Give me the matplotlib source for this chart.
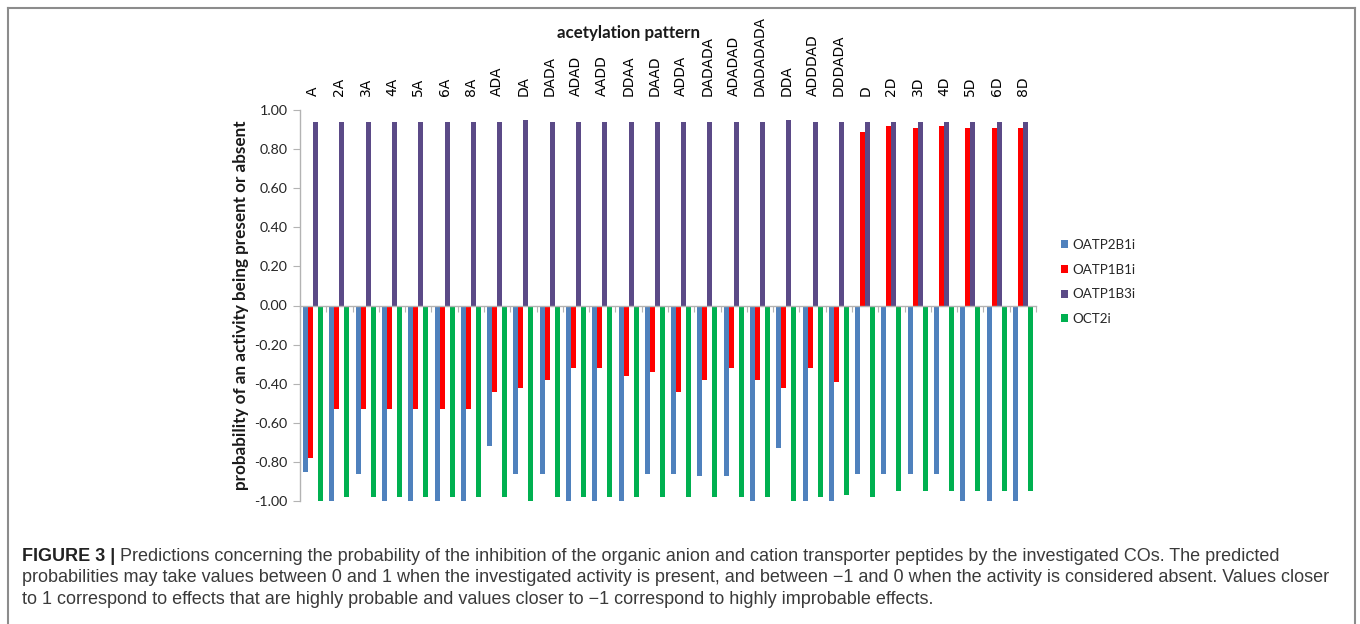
import matplotlib
matplotlib.use('Agg')
import matplotlib.pyplot as plt
import numpy as np
from matplotlib.lines import Line2D

categories = ['A', '2A', '3A', '4A', '5A', '6A', '8A', 'ADA', 'DA', 'DADA', 'ADAD', 'AADD',
              'DDAA', 'DAAD', 'ADDA', 'DADADA', 'ADADAD', 'DADADADA', 'DDA', 'ADDDAD',
              'DDDADA', 'D', '2D', '3D', '4D', '5D', '6D', '8D']
oatp2b1i = [-0.85, -1.00, -0.86, -1.00, -1.00, -1.00, -1.00, -0.72, -0.86, -0.86, -1.00, -1.00,
            -1.00, -0.86, -0.86, -0.87, -0.87, -1.00, -0.73, -1.00, -1.00, -0.86, -0.86, -0.86,
            -0.86, -1.00, -1.00, -1.00]
oatp1b1i = [-0.78, -0.53, -0.53, -0.53, -0.53, -0.53, -0.53, -0.44, -0.42, -0.38, -0.32, -0.32,
            -0.36, -0.34, -0.44, -0.38, -0.32, -0.38, -0.42, -0.32, -0.39, 0.89, 0.92, 0.91,
            0.92, 0.91, 0.91, 0.91]
oatp1b3i = [0.94, 0.94, 0.94, 0.94, 0.94, 0.94, 0.94, 0.94, 0.95, 0.94, 0.94, 0.94,
            0.94, 0.94, 0.94, 0.94, 0.94, 0.94, 0.95, 0.94, 0.94, 0.94, 0.94, 0.94,
            0.94, 0.94, 0.94, 0.94]
oct2i = [-1.00, -0.98, -0.98, -0.98, -0.98, -0.98, -0.98, -0.98, -1.00, -0.98, -0.98, -0.98,
         -0.98, -0.98, -0.98, -0.98, -0.98, -0.98, -1.00, -0.98, -0.97, -0.98, -0.95, -0.95,
         -0.95, -0.95, -0.95, -0.95]
series_names = ['OATP2B1i', 'OATP1B1i', 'OATP1B3i', 'OCT2i']
yticks = [1.0, 0.8, 0.6, 0.4, 0.2, 0.0, -0.2, -0.4, -0.6, -0.8, -1.0]

title_text = 'acetylation pattern'
ylabel_text = 'probability of an activity being present or absent'
cap_bold = 'FIGURE 3 |'
cap_line1 = (' Predictions concerning the probability of the inhibition of the organic anion and '
             'cation transporter peptides by the investigated COs. The predicted')
cap_line2 = ('probabilities may take values between 0 and 1 when the investigated activity is present, '
             'and between \u22121 and 0 when the activity is considered absent. Values closer')
cap_line3 = ('to 1 correspond to effects that are highly probable and values closer to \u22121 '
             'correspond to highly improbable effects.')

colors = ['#4f81bd', '#ff0000', '#5b4a87', '#00b050']
chart_font = ['Lato', 'DejaVu Sans']
cap_font = ['Liberation Sans', 'DejaVu Sans']
axis_gray = '#b3b3b3'

W, H = 1360, 624
fig = plt.figure(figsize=(W / 100, H / 100), dpi=100)
fig.patch.set_facecolor('white')


def fx(px):
    return px / W


def fy(py):
    return 1 - py / H


ax = fig.add_axes([fx(300), fy(501), fx(1036) - fx(300), fy(110) - fy(501)])
x = np.arange(len(categories))
w = 0.19
for i, (vals, name, col) in enumerate(zip([oatp2b1i, oatp1b1i, oatp1b3i, oct2i], series_names, colors)):
    ax.bar(x + (i - 1.5) * w, vals, width=w, color=col, label=name, linewidth=0)

ax.set_xlim(-0.5, len(categories) - 0.5)
ax.set_ylim(-1, 1)
ax.set_yticks(yticks)
ax.set_yticklabels([f'{v:.2f}' for v in yticks], fontfamily=chart_font, fontsize=10.3, color='#262626')

ax.set_xticks(x)
ax.set_xticklabels(categories, fontfamily=chart_font, fontsize=7.9, color='#262626')
ax.set_xticks(np.arange(-0.5, len(categories), 1.0), minor=True)
ax.tick_params(axis='x', which='major', bottom=False, top=False, labelbottom=False,
               labeltop=True, labelrotation=90, pad=6.5)
ax.tick_params(axis='x', which='minor', bottom=True, top=False, length=4, width=0.8,
               color=axis_gray, direction='out')
ax.tick_params(axis='y', which='major', left=True, length=5, width=0.8, color=axis_gray,
               direction='out', pad=4)

for s in ['top', 'right']:
    ax.spines[s].set_visible(False)
ax.spines['bottom'].set_position(('data', 0))
ax.spines['bottom'].set_color(axis_gray)
ax.spines['left'].set_color(axis_gray)
ax.spines['bottom'].set_linewidth(1.0)
ax.spines['left'].set_linewidth(1.0)
ax.set_facecolor('none')

fig.text(fx(629), fy(33), title_text, ha='center', va='center', fontsize=12.2,
         fontweight='bold', family=chart_font, color='#1a1a1a')
fig.text(fx(241), fy(305), ylabel_text, ha='center', va='center', rotation=90,
         fontsize=12.3, fontweight='bold', family=chart_font, color='#1a1a1a')

handles, labels = ax.get_legend_handles_labels()
leg = fig.legend(handles, labels, loc='center left', bbox_to_anchor=(fx(1061), fy(282)),
                 frameon=False, borderpad=0, borderaxespad=0, handlelength=0.55,
                 handleheight=0.55, handletextpad=0.3, labelspacing=0.95,
                 prop={'family': chart_font, 'size': 9.6})
for t in leg.get_texts():
    t.set_color('#262626')

# figure frame
frame_col = '#8c8c8c'
for xs, ys in [([7.5, 1355], [7.5, 7.5]), ([7.5, 7.5], [7.5, 624]), ([1355, 1355], [7.5, 624])]:
    fig.add_artist(Line2D([fx(v) for v in xs], [fy(v) for v in ys], transform=fig.transFigure,
                          color=frame_col, lw=1.5))

# caption
renderer = fig.canvas.get_renderer()
base = 13
t2 = fig.text(fx(22), fy(582.5), cap_line2, fontsize=base, family=cap_font, va='baseline',
              color='#3a3a3a')
wpx = t2.get_window_extent(renderer).width
fs = base * 1308 / wpx
t2.set_fontsize(fs)
tb = fig.text(fx(22), fy(561), cap_bold, fontsize=fs, family=cap_font, fontweight='bold',
              va='baseline', color='#222222')
bw = tb.get_window_extent(renderer).width
fig.text(fx(22 + bw), fy(561), cap_line1, fontsize=fs, family=cap_font, va='baseline',
         color='#3a3a3a')
fig.text(fx(22), fy(603.5), cap_line3, fontsize=fs, family=cap_font, va='baseline',
         color='#3a3a3a')

fig.savefig('out.png', dpi=100, facecolor='white')
